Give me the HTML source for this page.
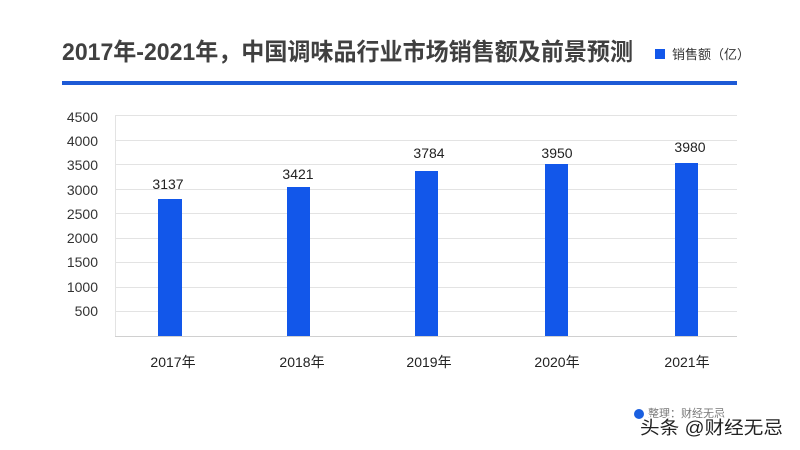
<!DOCTYPE html>
<html>
<head>
<meta charset="utf-8">
<style>
html,body{margin:0;padding:0;background:#fff;}
body{width:800px;height:450px;overflow:hidden;position:relative;font-family:"Liberation Sans","Noto Sans CJK SC",sans-serif;}
svg{position:absolute;left:0;top:0;}
</style>
</head>
<body>
<svg width="800" height="450" viewBox="0 0 800 450" xmlns="http://www.w3.org/2000/svg">
  <rect width="800" height="450" fill="#fff"/>
  <!-- Title -->
  <text x="62" y="60" font-family="Liberation Sans, Noto Sans CJK SC, sans-serif" font-size="24" font-weight="bold" fill="#404040" textLength="571" lengthAdjust="spacingAndGlyphs">2017年-2021年，中国调味品行业市场销售额及前景预测</text>
  <!-- Legend -->
  <rect x="655" y="49" width="10" height="10" fill="#1257ea"/>
  <text x="672" y="59" font-family="Liberation Sans, Noto Sans CJK SC, sans-serif" font-size="13" fill="#333">销售额（亿）</text>
  <!-- Blue rule -->
  <rect x="62" y="81" width="675" height="4" fill="#1d5ad6"/>

  <!-- Grid -->
  <g stroke="#e3e3e3" stroke-width="1">
    <line x1="115" y1="115.5" x2="737" y2="115.5"/>
    <line x1="115" y1="140.5" x2="737" y2="140.5"/>
    <line x1="115" y1="164.5" x2="737" y2="164.5"/>
    <line x1="115" y1="189.5" x2="737" y2="189.5"/>
    <line x1="115" y1="213.5" x2="737" y2="213.5"/>
    <line x1="115" y1="238.5" x2="737" y2="238.5"/>
    <line x1="115" y1="262.5" x2="737" y2="262.5"/>
    <line x1="115" y1="287.5" x2="737" y2="287.5"/>
    <line x1="115" y1="311.5" x2="737" y2="311.5"/>
    <line x1="115.5" y1="115" x2="115.5" y2="336"/>
  </g>
  <line x1="115" y1="336.5" x2="737" y2="336.5" stroke="#d0d0d0" stroke-width="1"/>

  <!-- Y labels -->
  <g font-family="Liberation Sans, sans-serif" font-size="14" fill="#333" text-anchor="end">
    <text x="98" y="122">4500</text>
    <text x="98" y="146">4000</text>
    <text x="98" y="170">3500</text>
    <text x="98" y="195">3000</text>
    <text x="98" y="219">2500</text>
    <text x="98" y="243">2000</text>
    <text x="98" y="267">1500</text>
    <text x="98" y="292">1000</text>
    <text x="98" y="316">500</text>
  </g>

  <!-- Bars -->
  <g fill="#1257ea">
    <rect x="158" y="199" width="24" height="137"/>
    <rect x="287" y="187" width="23" height="149"/>
    <rect x="415" y="171" width="23" height="165"/>
    <rect x="545" y="164" width="23" height="172"/>
    <rect x="675" y="163" width="23" height="173"/>
  </g>

  <!-- Value labels -->
  <g font-family="Liberation Sans, sans-serif" font-size="14" fill="#222" text-anchor="middle">
    <text x="168" y="189">3137</text>
    <text x="298" y="179">3421</text>
    <text x="429" y="158">3784</text>
    <text x="557" y="158">3950</text>
    <text x="690" y="152">3980</text>
  </g>

  <!-- X labels -->
  <g font-family="Liberation Sans, Noto Sans CJK SC, sans-serif" font-size="14" fill="#222" text-anchor="middle">
    <text x="173" y="367">2017年</text>
    <text x="302" y="367">2018年</text>
    <text x="429" y="367">2019年</text>
    <text x="557" y="367">2020年</text>
    <text x="687" y="367">2021年</text>
  </g>

  <!-- Footer watermark -->
  <circle cx="639" cy="414" r="5" fill="#1a5fe0"/>
  <text x="648" y="417" font-family="Liberation Sans, Noto Sans CJK SC, sans-serif" font-size="11" fill="#777">整理：财经无忌</text>
  <text x="640" y="434" font-family="Liberation Sans, Noto Sans CJK SC, sans-serif" font-size="18" fill="#222" stroke="#fff" stroke-width="3" paint-order="stroke" textLength="143" lengthAdjust="spacingAndGlyphs">头条 @财经无忌</text>
</svg>
</body>
</html>
